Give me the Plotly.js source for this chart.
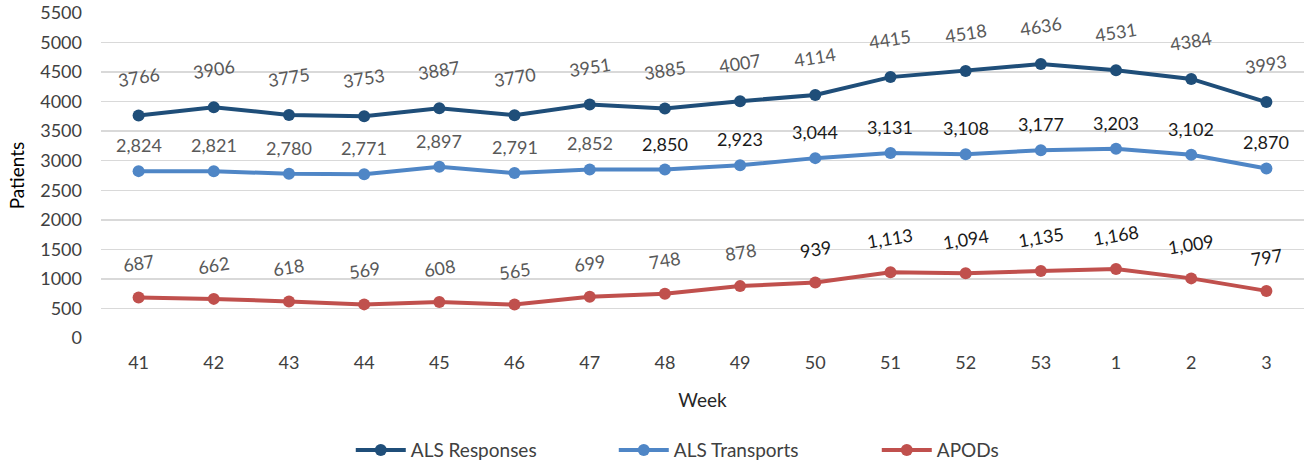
<!DOCTYPE html>
<html><head><meta charset="utf-8">
<script src="https://cdn.plot.ly/plotly-3.0.1.min.js"></script>
<style>html,body{margin:0;padding:0;background:#fff}#c{width:1304px;height:463px}</style>
</head><body><div id="c"></div>
<script>
const weeks = ["41","42","43","44","45","46","47","48","49","50","51","52","53","1","2","3"];
const alsResponses = [3766,3906,3775,3753,3887,3770,3951,3885,4007,4114,4415,4518,4636,4531,4384,3993];
const alsTransports = [2824,2821,2780,2771,2897,2791,2852,2850,2923,3044,3131,3108,3177,3203,3102,2870];
const apods = [687,662,618,569,608,565,699,748,878,939,1113,1094,1135,1168,1009,797];
const yTicks = [0,500,1000,1500,2000,2500,3000,3500,4000,4500,5000,5500];

const FONT = "Lato, 'Open Sans', sans-serif";
const GRAY = "#595959", DARK = "#1a1a1a";
const C1 = "#1f4e79", C2 = "#4f86c6", C3 = "#c0504d";

function tr(name, y, color) {
  return {x: weeks, y: y, name: name, type: "scatter", mode: "lines+markers",
    line: {color: color, width: 4}, marker: {color: color, size: 12}, cliponaxis: false};
}
const fmt = v => v.toLocaleString("en-US");
const ann = [];
weeks.forEach((w, i) => {
  ann.push({x: i, y: alsResponses[i], text: String(alsResponses[i]), showarrow: false, yshift: 38, textangle: -9,
    font: {family: FONT, size: 18, color: GRAY}});
  ann.push({x: i, y: alsTransports[i], text: fmt(alsTransports[i]), showarrow: false, yshift: 26, textangle: 0,
    font: {family: FONT, size: 18, color: i >= 7 ? DARK : GRAY}});
  ann.push({x: i, y: apods[i], text: fmt(apods[i]), showarrow: false, yshift: 34, textangle: -9,
    font: {family: FONT, size: 18, color: i >= 9 ? DARK : GRAY}});
});

Plotly.newPlot("c", [tr("ALS Responses", alsResponses, C1), tr("ALS Transports", alsTransports, C2), tr("APODs", apods, C3)], {
  width: 1304, height: 463,
  margin: {l: 101, r: 0, t: 13, b: 125},
  paper_bgcolor: "#fff", plot_bgcolor: "#fff",
  font: {family: FONT, size: 18, color: "#404040"},
  xaxis: {type: "category", range: [-0.5, 15.5], showgrid: false, zeroline: false, showline: false, ticks: "",
    tickfont: {family: FONT, size: 18, color: "#404040"}, ticklabelstandoff: 12,
    title: {text: "Week", font: {family: FONT, size: 19, color: "#262626"}, standoff: 21}},
  yaxis: {range: [0, 5500], tickvals: yTicks, ticktext: yTicks.map(String), showgrid: true,
    gridcolor: "#d9d9d9", gridwidth: 1.5, zeroline: false, showline: false, ticks: "",
    tickfont: {family: FONT, size: 18, color: "#404040"}, ticklabelstandoff: 18,
    title: {text: "Patients", font: {family: FONT, size: 19, color: "#000"}, standoff: 10}},
  showlegend: true,
  legend: {orientation: "h", x: 0.269, xanchor: "left", xref: "container", y: 0.028, yanchor: "middle", yref: "container",
    font: {family: FONT, size: 19, color: "#404040"}, itemwidth: 50, traceorder: "normal",
    entrywidth: 198, entrywidthmode: "pixels"},
  annotations: ann
}, {displayModeBar: false, staticPlot: true});
</script></body></html>
